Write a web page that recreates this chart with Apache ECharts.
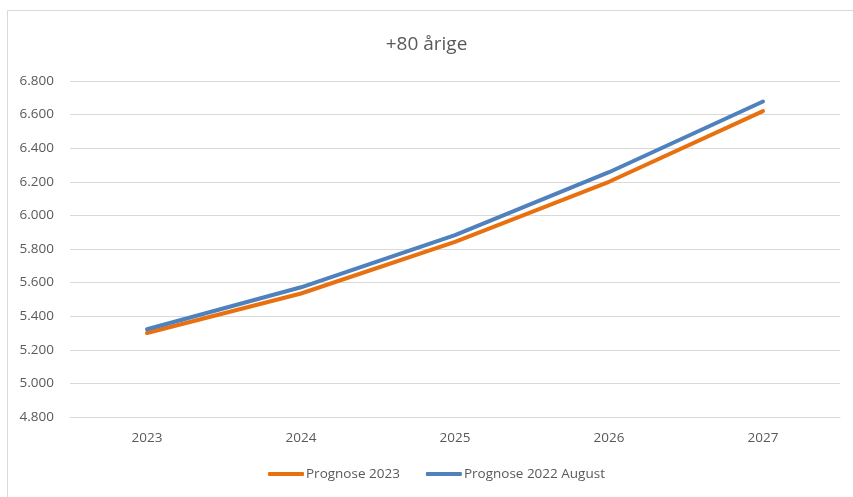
<!DOCTYPE html>
<html>
<head>
<meta charset="utf-8">
<script src="https://cdn.jsdelivr.net/npm/echarts@6/dist/echarts.min.js"></script>
<style>
  html, body { margin: 0; padding: 0; background: #fff; }
  #chart { width: 853px; height: 497px; }
</style>
</head>
<body>
<div id="chart"></div>
<script>
const years = ['2023', '2024', '2025', '2026', '2027'];
const prognose2023 = [5300, 5535, 5843, 6200, 6621];
const prognose2022Aug = [5322, 5572, 5883, 6257, 6678];
const yTicks = { min: 4800, max: 6800, step: 200 };

const fontFamily = '"Open Sans", "Noto Sans", sans-serif';
const textColor = '#595959';

function danish(v) {
    return String(v).replace(/\B(?=(\d{3})+(?!\d))/g, '.');
}

const chart = echarts.init(document.getElementById('chart'));

const option = {
    animation: false,
    title: {
        text: '+80 årige',
        left: 'center',
        top: 30,
        textStyle: { fontFamily: fontFamily, fontSize: 19, fontWeight: 'normal', color: textColor }
    },
    graphic: [{
        type: 'rect',
        shape: { x: 7.5, y: 10.5, width: 860, height: 500 },
        style: { fill: 'none', stroke: '#d9d9d9', lineWidth: 1 },
        silent: true
    }],
    grid: { left: 70, right: 13, top: 81, bottom: 80, containLabel: false },
    legend: {
        bottom: 11,
        left: 263,
        itemWidth: 36,
        itemHeight: 4,
        itemGap: 26,
        icon: 'roundRect',
        textStyle: { fontFamily: fontFamily, fontSize: 13.5, color: textColor, padding: [0, 0, 0, -3] },
        data: ['Prognose 2023', 'Prognose 2022 August']
    },
    xAxis: {
        type: 'category',
        data: years,
        boundaryGap: true,
        axisLine: { show: true, lineStyle: { color: '#d9d9d9', width: 1 } },
        axisTick: { show: false },
        axisLabel: { fontFamily: fontFamily, fontSize: 13.5, color: textColor, margin: 14 }
    },
    yAxis: {
        type: 'value',
        min: yTicks.min,
        max: yTicks.max,
        interval: yTicks.step,
        axisLine: { show: false },
        axisTick: { show: false },
        splitLine: { lineStyle: { color: '#d9d9d9', width: 1 } },
        axisLabel: {
            fontFamily: fontFamily, fontSize: 13.5, color: textColor, margin: 16,
            formatter: v => danish(v)
        }
    },
    series: [
        {
            name: 'Prognose 2023',
            type: 'line',
            data: prognose2023,
            showSymbol: false,
            symbol: 'none',
            color: '#E8700F',
            lineStyle: { width: 4, cap: 'round' }
        },
        {
            name: 'Prognose 2022 August',
            type: 'line',
            data: prognose2022Aug,
            showSymbol: false,
            symbol: 'none',
            color: '#4F81BD',
            lineStyle: { width: 4, cap: 'round' }
        }
    ]
};

chart.setOption(option);
</script>
</body>
</html>
